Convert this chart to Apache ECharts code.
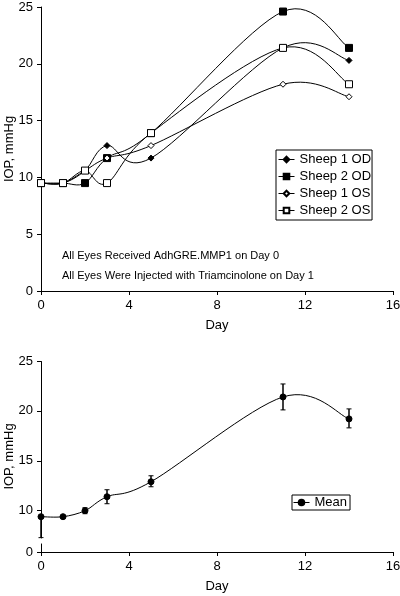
<!DOCTYPE html>
<html><head><meta charset="utf-8">
<script src="https://cdn.jsdelivr.net/npm/echarts@6/dist/echarts.min.js"></script>
<style>html,body{margin:0;padding:0;background:#fff}#c{width:400px;height:596px}</style>
</head><body><div id="c"></div>
<script>
// ---- data ----
var days = [0, 1, 2, 3, 5, 11, 14];
var sheep1OD = [9.5, 9.5, 10.6, 12.8, 11.7, 21.4, 20.3];
var sheep2OD = [9.5, 9.5, 9.5, 11.7, 13.9, 24.6, 21.4];
var sheep1OS = [9.5, 9.5, 10.6, 11.7, 12.8, 18.2, 17.1];
var sheep2OS = [9.5, 9.5, 10.6, 9.5, 13.9, 21.4, 18.2];
var meanIOP = [9.4, 9.4, 10.0, 11.4, 12.9, 21.4, 19.2];
var errLow  = [7.3, 9.4, 9.7, 10.7, 12.4, 20.1, 18.3];
var errHigh = [9.4, 9.4, 10.3, 12.1, 13.5, 22.7, 20.2];
var xTicks = [0, 4, 8, 12, 16];
var yTicks = [0, 5, 10, 15, 20, 25];
var yTicksBottom = [0, 10, 15, 20, 25];
var notes = ['All Eyes Received AdhGRE.MMP1 on Day 0', 'All Eyes Were Injected with Triamcinolone on Day 1'];

function pts(vals){ return days.map(function(d,i){ return [d, vals[i]]; }); }
var font = 'Liberation Sans, Arial, sans-serif';
var axisCommonX = {
  type:'value', min:xTicks[0], max:xTicks[xTicks.length-1], interval:4,
  name:'Day', nameLocation:'middle', nameGap:28, nameMoveOverlap:false,
  nameTextStyle:{fontFamily:font, fontSize:13, color:'#000'},
  axisLine:{show:true, onZero:false, lineStyle:{color:'#000', width:1}},
  axisTick:{show:true, inside:false, length:4, lineStyle:{color:'#000'}},
  axisLabel:{fontFamily:font, fontSize:13, color:'#000', margin:8},
  splitLine:{show:false}
};
function yAxisCommon(extra){
  var a = {
    type:'value', min:yTicks[0], max:yTicks[yTicks.length-1], interval:5,
    name:'IOP, mmHg', nameLocation:'middle', nameGap:25, nameMoveOverlap:false,
    nameTextStyle:{fontFamily:font, fontSize:13, color:'#000'},
    axisLine:{show:true, onZero:false, lineStyle:{color:'#000', width:1}},
    axisTick:{show:true, inside:false, length:4, lineStyle:{color:'#000'}},
    axisLabel:{fontFamily:font, fontSize:13, color:'#000', margin:8},
    splitLine:{show:false}
  };
  for (var k in extra) a[k] = extra[k];
  return a;
}
// Excel-like smoothed curve (Catmull-Rom Bezier) drawn through the axis scales
function curveSeries(vals, xi, yi){
  return {
    type:'custom', xAxisIndex:xi, yAxisIndex:yi, silent:true, z:2, clip:false,
    data: pts(vals),
    renderItem:function(params, api){
      if (params.dataIndex !== 0) return null;
      var P = days.map(function(d,i){ return api.coord([d, vals[i]]); });
      var n = P.length, k = 1/6;
      var path = 'M' + P[0][0] + ' ' + P[0][1];
      for (var i = 0; i < n-1; i++){
        var p0 = P[Math.max(i-1,0)], p1 = P[i], p2 = P[i+1], p3 = P[Math.min(i+2,n-1)];
        var c1 = [p1[0] + (p2[0]-p0[0])*k, p1[1] + (p2[1]-p0[1])*k];
        var c2 = [p2[0] - (p3[0]-p1[0])*k, p2[1] - (p3[1]-p1[1])*k];
        path += ' C' + c1[0] + ' ' + c1[1] + ' ' + c2[0] + ' ' + c2[1] + ' ' + p2[0] + ' ' + p2[1];
      }
      return {type:'path', shape:{pathData:path}, style:{stroke:'#000', fill:null, lineWidth:1}};
    }
  };
}
function markerSeries(name, vals, symbol, size, filled, xi, yi){
  return {
    type:'line', name:name, data:pts(vals), xAxisIndex:xi, yAxisIndex:yi,
    symbol:symbol, symbolSize:size, showAllSymbol:true,
    lineStyle:{color:'#000', width:1, opacity:0},
    itemStyle:{color: filled ? '#000' : '#fff', borderColor:'#000', borderWidth:1},
    emphasis:{disabled:true}, z: filled ? 3 : 4
  };
}
var chart = echarts.init(document.getElementById('c'), null, {renderer:'canvas'});
var option = {
  animation:false,
  backgroundColor:'#fff',
  grid:[
    {left:41, right:7, top:7, bottom:305, outerBoundsMode:'none'},
    {left:41, right:7, top:361, bottom:44, outerBoundsMode:'none'}
  ],
  xAxis:[
    Object.assign({gridIndex:0}, axisCommonX),
    Object.assign({gridIndex:1}, axisCommonX)
  ],
  yAxis:[
    yAxisCommon({gridIndex:0}),
    yAxisCommon({gridIndex:1,
      breaks:[{start:0.84, end:7.2, gap:'2.6%'}],
      breakArea:{show:true, zigzagAmplitude:0, itemStyle:{color:'#fff', borderColor:'#fff', borderWidth:0, opacity:1}},
      axisTick:{show:true, inside:false, length:4, lineStyle:{color:'#000'}, customValues:yTicksBottom},
      axisLabel:{fontFamily:font, fontSize:13, color:'#000', margin:8, customValues:yTicksBottom, hideOverlap:false}
    })
  ],
  legend:[
    {data:['Sheep 1 OD','Sheep 2 OD','Sheep 1 OS','Sheep 2 OS'], orient:'vertical',
     left:276, top:150, itemWidth:16, itemHeight:7, itemGap:4, padding:[3,1,3,2],
     borderColor:'#000', borderWidth:1, backgroundColor:'#fff',
     lineStyle:{color:'#000', width:1, opacity:1},
     textStyle:{fontFamily:font, fontSize:13, color:'#000'}},
    {data:['Mean'], orient:'vertical', left:292, top:495, itemWidth:16, itemHeight:7,
     padding:[1,3,1,1], borderColor:'#000', borderWidth:1,
     lineStyle:{color:'#000', width:1, opacity:1},
     textStyle:{fontFamily:font, fontSize:13, color:'#000'}}
  ],
  graphic:[
    {type:'text', left:62, top:250, style:{text:notes[0], font:'11px ' + font, fill:'#000'}},
    {type:'text', left:62, top:270, style:{text:notes[1], font:'11px ' + font, fill:'#000'}}
  ],
  series:[
    curveSeries(sheep1OD, 0, 0),
    curveSeries(sheep2OD, 0, 0),
    curveSeries(sheep1OS, 0, 0),
    curveSeries(sheep2OS, 0, 0),
    markerSeries('Sheep 1 OD', sheep1OD, 'diamond', 6, true, 0, 0),
    markerSeries('Sheep 2 OD', sheep2OD, 'rect', 7, true, 0, 0),
    markerSeries('Sheep 1 OS', sheep1OS, 'diamond', 6, false, 0, 0),
    markerSeries('Sheep 2 OS', sheep2OS, 'rect', 7, false, 0, 0),
    curveSeries(meanIOP, 1, 1),
    markerSeries('Mean', meanIOP, 'circle', 6, true, 1, 1),
    {
      type:'custom', name:'err', xAxisIndex:1, yAxisIndex:1, z:4,
      data: days.map(function(d,i){ return [d, errLow[i], errHigh[i]]; }),
      renderItem:function(params, api){
        var x = api.value(0);
        var lo = api.coord([x, api.value(1)]);
        var hi = api.coord([x, api.value(2)]);
        if (Math.abs(hi[1]-lo[1]) < 1) return null;
        var w = 2.5;
        return {type:'group', children:[
          {type:'line', shape:{x1:lo[0], y1:lo[1], x2:hi[0], y2:hi[1]}, style:{stroke:'#000', lineWidth:1.5}},
          {type:'line', shape:{x1:lo[0]-w, y1:lo[1], x2:lo[0]+w, y2:lo[1]}, style:{stroke:'#000', lineWidth:1}},
          {type:'line', shape:{x1:hi[0]-w, y1:hi[1], x2:hi[0]+w, y2:hi[1]}, style:{stroke:'#000', lineWidth:1}}
        ]};
      },
      silent:true
    }
  ]
};
chart.setOption(option);
</script></body></html>
